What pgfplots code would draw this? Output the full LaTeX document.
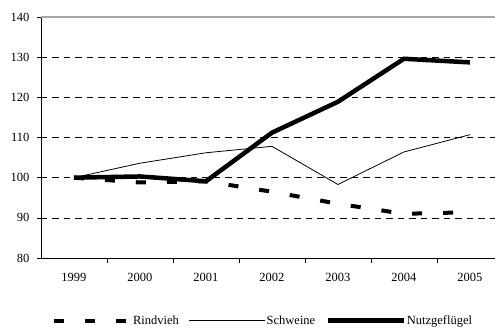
\documentclass[border=0pt]{standalone}
\usepackage{pgfplots}
\pgfplotsset{compat=1.18}
\usepackage{fontspec}
\setmainfont{Liberation Serif}
\begin{document}
\begin{tikzpicture}
\useasboundingbox (-41bp,-74bp) rectangle (454bp,258bp);
\begin{axis}[
  scale only axis,
  width=454bp, height=241bp,
  at={(0,0)}, anchor=south west,
  xmin=-0.5, xmax=6.38,
  ymin=80, ymax=140,
  axis x line*=bottom, axis y line*=left,
  axis line style={black, line width=0.8pt, -},
  xtick={0,...,6},
  xticklabels={1999,2000,2001,2002,2003,2004,2005},
  minor xtick={0.5,1.5,2.5,3.5,4.5,5.5},
  major x tick style={draw=none},
  minor x tick style={black, line width=0.6pt},
  minor tick length=5bp,
  ytick={80,90,...,140},
  major tick length=4bp,
  y tick style={black, line width=0.6pt},
  tick align=outside,
  ymajorgrids,
  grid style={black, line width=0.5pt, dash pattern=on 6.5bp off 5bp},
  tick label style={font=\fontsize{12.5bp}{15bp}\selectfont},
  /pgf/number format/assume math mode=true,
  xticklabel style={yshift=-7.5bp},
  yticklabel style={xshift=-4bp},
  clip=false,
  legend columns=3,
  legend style={draw=none, fill=none, at={(0.488,-0.26)}, anchor=center,
    font=\fontsize{12.5bp}{15bp}\selectfont,
    nodes={inner sep=1bp},
    /tikz/every even column/.append style={column sep=9bp},
    inner sep=0pt},
  legend cell align=left,
  legend image code/.code={\draw[#1] (0bp,0bp) -- (76bp,0bp);},
]
\addplot[black, line width=4bp, dash pattern=on 10bp off 21bp] coordinates {
 (0,100) (1,98.8) (2,99.1) (3,96.5) (4,93.5) (5,91.0) (6,91.4)};
\addlegendentry{Rindvieh}
\addplot[black, line width=0.8pt] coordinates {
 (0,100) (1,103.6) (2,106.2) (3,107.8) (4,98.3) (5,106.4) (6,110.7)};
\addlegendentry{Schweine}
\addplot[black, line width=4.5bp] coordinates {
 (0,100) (1,100.3) (2,99.1) (3,111.2) (4,118.9) (5,129.6) (6,128.7)};
\addlegendentry{Nutzgefl\"ugel}
\draw[gray!70, line width=1.2pt] (rel axis cs:0,1) -- (rel axis cs:1,1);
\end{axis}
\end{tikzpicture}
\end{document}
